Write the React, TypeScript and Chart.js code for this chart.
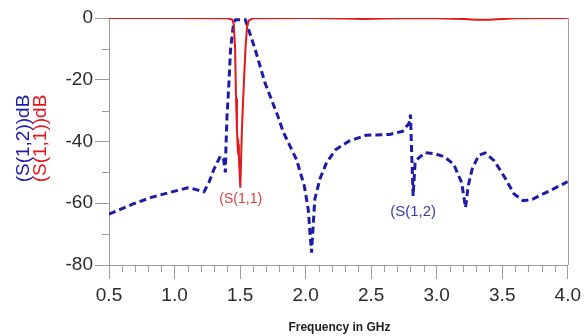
import { useEffect, useRef } from 'react';
import { Chart, registerables } from 'chart.js';

Chart.register(...registerables);

// ---- data ----
const S11_FREQ = [0.5, 1.0, 1.4, 1.44, 1.452, 1.462, 1.469, 1.476, 1.482, 1.487, 1.491, 1.496, 1.502, 1.508, 1.515, 1.528, 1.541, 1.553, 1.566, 1.6, 2.0, 2.3, 2.45, 2.6, 2.75, 3.0, 3.2, 3.3, 3.4, 3.5, 3.6, 4.0];
const S11_DB = [0, 0, -0.1, -0.5, -2, -10, -26, -36, -42, -41, -45, -50, -55, -45, -35, -22, -10, -3, -0.8, -0.1, 0, -0.2, -0.3, -0.2, -0.1, -0.1, -0.3, -0.6, -0.6, -0.3, -0.1, 0];

const S12_FREQ = [0.5, 0.68, 0.83, 1.01, 1.1, 1.16, 1.225, 1.265, 1.3, 1.35, 1.375, 1.388, 1.392, 1.4, 1.415, 1.427, 1.45, 1.465, 1.54, 1.566, 1.616, 1.69, 1.79, 1.83, 1.93, 1.99, 2.02, 2.045, 2.07, 2.11, 2.16, 2.23, 2.33, 2.46, 2.64, 2.74, 2.79, 2.8, 2.81, 2.82, 2.835, 2.85, 2.91, 2.99, 3.06, 3.13, 3.19, 3.22, 3.24, 3.27, 3.32, 3.37, 3.44, 3.52, 3.59, 3.66, 3.73, 3.86, 4.0];
const S12_DB = [-63.5, -60.3, -58, -56, -55, -55.5, -56.3, -53, -49, -44.7, -46, -50, -42, -32, -21, -10.3, -1.7, -0.6, -0.6, -3.9, -10.3, -21, -32, -37, -45.8, -54.4, -62, -76, -58.7, -52, -46.8, -42.6, -39.9, -38, -37.7, -36.7, -34, -31.3, -45, -57.6, -47, -45.8, -43.6, -44, -45, -47.4, -53.3, -61.4, -54.4, -49, -44.5, -43.7, -46.3, -51.7, -57, -59.2, -58.7, -56, -53];

const X_MAJOR = [0.5, 1.0, 1.5, 2.0, 2.5, 3.0, 3.5, 4.0];
const Y_MAJOR = [0, -20, -40, -60, -80];

const ANNOT_TEXT = ['(S(1,1)', '(S(1,2)'];
const ANNOT_X = [1.505, 2.82];
const ANNOT_Y = [-58.7, -62.9];

const Y_TITLE_LINES = ['(S(1,2))dB', '(S(1,1))dB'];
const X_TITLE = 'Frequency in GHz';

const RED = '#e3161b';
const BLUE = '#1c1ca8';
const AXIS = '#9c9c9c';
const FONT = '"Liberation Sans", Arial, sans-serif';

const isIn = (v: number, arr: number[]) => arr.some((a) => Math.abs(a - v) < 1e-6);

const overlay = {
  id: 'overlay',
  afterDraw(chart: any) {
    const { ctx, chartArea, scales } = chart;
    const xs = scales.x;
    const ys = scales.y;
    ctx.save();
    // right border
    ctx.strokeStyle = AXIS;
    ctx.lineWidth = 1;
    ctx.beginPath();
    ctx.moveTo(Math.round(chartArea.right) + 0.5, chartArea.top);
    ctx.lineTo(Math.round(chartArea.right) + 0.5, chartArea.bottom);
    ctx.stroke();
    // minor ticks
    ctx.beginPath();
    xs.ticks.forEach((t: any) => {
      if (isIn(t.value, X_MAJOR)) return;
      const px = Math.round(xs.getPixelForValue(t.value)) + 0.5;
      ctx.moveTo(px, chartArea.bottom);
      ctx.lineTo(px, chartArea.bottom + 7);
    });
    ys.ticks.forEach((t: any) => {
      if (isIn(t.value, Y_MAJOR)) return;
      const py = Math.round(ys.getPixelForValue(t.value)) + 0.5;
      ctx.moveTo(chartArea.left - 7, py);
      ctx.lineTo(chartArea.left, py);
    });
    ctx.stroke();
    // annotations
    ctx.textAlign = 'center';
    ctx.textBaseline = 'middle';
    ctx.font = `14px ${FONT}`;
    ctx.fillStyle = '#d9433f';
    ctx.fillText(ANNOT_TEXT[0], xs.getPixelForValue(ANNOT_X[0]), ys.getPixelForValue(ANNOT_Y[0]));
    ctx.font = `15px ${FONT}`;
    ctx.fillStyle = '#3a3aa8';
    ctx.fillText(ANNOT_TEXT[1], xs.getPixelForValue(ANNOT_X[1]), ys.getPixelForValue(ANNOT_Y[1]));
    // y title (two coloured lines)
    const midY = (chartArea.top + chartArea.bottom) / 2 - 3;
    ctx.font = `19px ${FONT}`;
    const cols = [BLUE, RED];
    const xPos = [24, 41];
    Y_TITLE_LINES.forEach((txt, i) => {
      ctx.save();
      ctx.translate(xPos[i], midY);
      ctx.rotate(-Math.PI / 2);
      ctx.fillStyle = cols[i];
      ctx.fillText(txt, 0, 0);
      ctx.restore();
    });
    // x title
    ctx.font = `bold 12px ${FONT}`;
    ctx.fillStyle = '#222';
    ctx.fillText(X_TITLE, (chartArea.left + chartArea.right) / 2 + 1, 328);
    ctx.restore();
  },
};

export default function App() {
  const ref = useRef<HTMLCanvasElement | null>(null);
  useEffect(() => {
    document.body.style.margin = '0';
    const canvas = ref.current;
    if (!canvas) return;
    const chart = new Chart(canvas, {
      type: 'line',
      data: {
        datasets: [
          {
            label: 'S(1,1)',
            data: S11_FREQ.map((f, i) => ({ x: f, y: S11_DB[i] })),
            borderColor: RED,
            borderWidth: 2,
            pointRadius: 0,
            tension: 0,
            order: 0,
          },
          {
            label: 'S(1,2)',
            data: S12_FREQ.map((f, i) => ({ x: f, y: S12_DB[i] })),
            borderColor: BLUE,
            borderWidth: 3,
            borderDash: [7, 4],
            pointRadius: 0,
            tension: 0,
            order: 1,
          },
        ],
      },
      options: {
        responsive: false,
        animation: false,
        layout: { padding: { left: 0, right: 14, top: 18, bottom: 0 } },
        plugins: { legend: { display: false }, tooltip: { enabled: false } },
        scales: {
          x: {
            type: 'linear',
            min: 0.5,
            max: 4.0,
            afterFit: (s: any) => {
              s.height = 71;
            },
            border: { display: true, color: AXIS, width: 1 },
            grid: {
              drawOnChartArea: false,
              drawTicks: true,
              tickLength: 14,
              tickColor: (c: any) => (c.tick && isIn(c.tick.value, X_MAJOR) ? AXIS : 'rgba(0,0,0,0)'),
            },
            ticks: {
              stepSize: 0.1,
              autoSkip: false,
              maxRotation: 0,
              padding: 5,
              color: '#2b2b2b',
              font: { family: FONT, size: 19 },
              callback: (v: any) => (isIn(Number(v), X_MAJOR) ? Number(v).toFixed(1) : ''),
            },
          },
          y: {
            type: 'linear',
            min: -80,
            max: 0,
            afterFit: (s: any) => {
              s.width = 109;
            },
            border: { display: true, color: AXIS, width: 1 },
            grid: {
              drawOnChartArea: false,
              drawTicks: true,
              tickLength: 14,
              tickColor: (c: any) => (c.tick && isIn(c.tick.value, Y_MAJOR) ? AXIS : 'rgba(0,0,0,0)'),
            },
            ticks: {
              stepSize: 10,
              autoSkip: false,
              padding: 2,
              color: '#2b2b2b',
              font: { family: FONT, size: 19 },
              callback: (v: any) => (isIn(Number(v), Y_MAJOR) ? String(Math.round(Number(v))) : ''),
            },
          },
        },
      },
      plugins: [overlay],
    } as any);
    return () => chart.destroy();
  }, []);
  return (
    <div style={{ width: 586, height: 336 }}>
      <canvas ref={ref} width={586} height={336} style={{ display: 'block' }} />
    </div>
  );
}
